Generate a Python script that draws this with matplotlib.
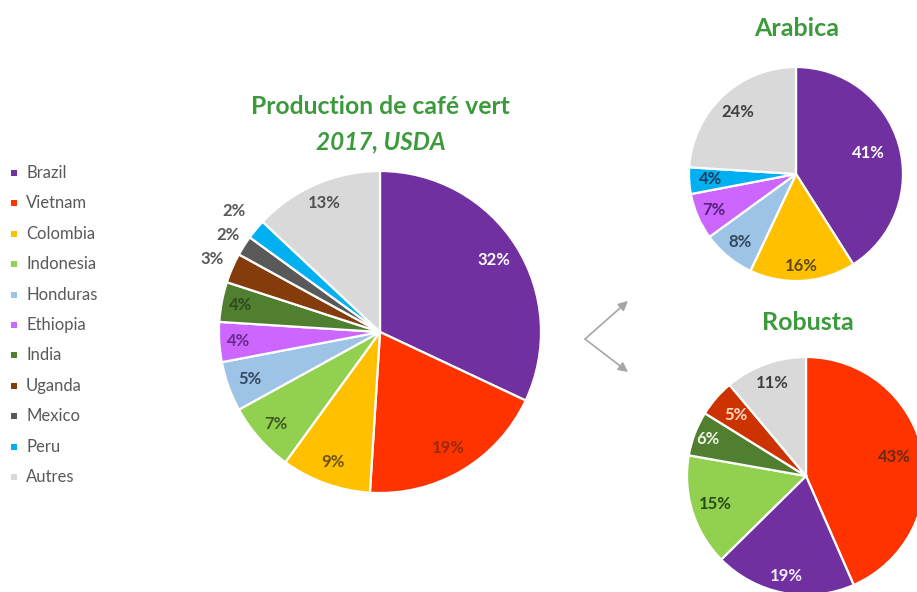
import numpy as np
import matplotlib
matplotlib.use('Agg')
import matplotlib.pyplot as plt

plt.rcParams['font.family'] = ['Lato', 'DejaVu Sans']

# data (percent of green coffee production, 2017, USDA)
countries = ['Brazil', 'Vietnam', 'Colombia', 'Indonesia', 'Honduras', 'Ethiopia',
             'India', 'Uganda', 'Mexico', 'Peru', 'Autres']
total_pct = [32, 19, 9, 7, 5, 4, 4, 3, 2, 2, 13]

arabica_names = ['Brazil', 'Colombia', 'Honduras', 'Ethiopia', 'Peru', 'Autres']
arabica_pct = [41, 16, 8, 7, 4, 24]

robusta_names = ['Vietnam', 'Brazil', 'Indonesia', 'India', 'Uganda', 'Autres']
robusta_pct = [43, 19, 15, 6, 5, 11]

colors = {
    'Brazil': '#7030a0', 'Vietnam': '#ff3300', 'Colombia': '#ffc000',
    'Indonesia': '#92d050', 'Honduras': '#9dc3e6', 'Ethiopia': '#cc66ff',
    'India': '#4f7f2f', 'Uganda': '#843c0c', 'Mexico': '#595959',
    'Peru': '#00b0f0', 'Autres': '#d9d9d9',
}
text_cols = {
    'Brazil': 'white', 'Vietnam': '#9c2a08', 'Colombia': '#6e5410',
    'Indonesia': '#3e5a22', 'Honduras': '#33475c', 'Ethiopia': '#6a2a8a',
    'India': '#2f4a1c', 'Uganda': '#595959', 'Mexico': '#595959',
    'Peru': '#595959', 'Autres': '#505050',
}

green = '#3c9a3c'
H = 592


def draw_pie(ax, values, names, cx, cy, r, dists, pie_cols=None, lab_cols=None, fs=12):
    pie_cols = pie_cols or [colors[n] for n in names]
    lab_cols = lab_cols or [text_cols[n] for n in names]
    wedges, _ = ax.pie(values, colors=pie_cols, startangle=90, counterclock=False,
                       center=(cx, H - cy), radius=r,
                       wedgeprops=dict(edgecolor='white', linewidth=1.6))
    for w, v, tc, d in zip(wedges, values, lab_cols, dists):
        a = np.deg2rad((w.theta1 + w.theta2) / 2)
        ax.text(cx + d * r * np.cos(a), H - cy + d * r * np.sin(a), f'{v}%',
                ha='center', va='center', fontsize=fs, fontweight='bold', color=tc)


fig = plt.figure(figsize=(9.17, 5.92), dpi=100)
ax = fig.add_axes([0, 0, 1, 1])

# main pie
draw_pie(ax, total_pct, countries, 380, 332, 161,
         [0.84, 0.84, 0.86, 0.86, 0.86, 0.88, 0.88, 1.14, 1.12, 1.18, 0.87])

# Arabica
ara_lab = ['white', '#5e4a14', '#34485c', '#5a1f7a', '#1f3e60', '#404040']
draw_pie(ax, arabica_pct, arabica_names, 796, 174, 107,
         [0.70, 0.86, 0.82, 0.84, 0.80, 0.80], lab_cols=ara_lab)

# Robusta
rob_cols = [colors[n] for n in robusta_names]
rob_cols[4] = '#cc3300'
rob_lab = ['#6a2a14', '#f2eaf7', '#2a4a1a', '#eef5e8', '#ffd8c8', '#404040']
draw_pie(ax, robusta_pct, robusta_names, 806, 476, 119,
         [0.76, 0.86, 0.80, 0.88, 0.78, 0.83], pie_cols=rob_cols, lab_cols=rob_lab)

# titles
ax.text(380, H - 107, 'Production de café vert', ha='center', va='center',
        fontsize=17.8, fontweight='bold', color=green)
ax.text(381, H - 142, '2017, USDA', ha='center', va='center',
        fontsize=17.5, fontweight='bold', style='italic', color=green)
ax.text(797, H - 28, 'Arabica', ha='center', va='center',
        fontsize=18, fontweight='bold', color=green)
ax.text(808, H - 322, 'Robusta', ha='center', va='center',
        fontsize=18, fontweight='bold', color=green)

# legend
for i, name in enumerate(countries):
    y = H - (173 + 30.4 * i)
    ax.scatter([14], [y], marker='s', s=22, color=colors[name], linewidths=0)
    ax.text(26, y, name, ha='left', va='center', fontsize=12, color='#595959')

# arrows
for tip in [(628, 301), (628, 372)]:
    ax.annotate('', xy=(tip[0], H - tip[1]), xytext=(585, H - 339),
                arrowprops=dict(arrowstyle='-|>', color='#a6a6a6', lw=1.2,
                                mutation_scale=14, shrinkA=0, shrinkB=0))

ax.set_xlim(0, 917)
ax.set_ylim(0, H)
ax.set_aspect('equal')
ax.set_axis_off()

fig.savefig('out.png', dpi=100, facecolor='white')
